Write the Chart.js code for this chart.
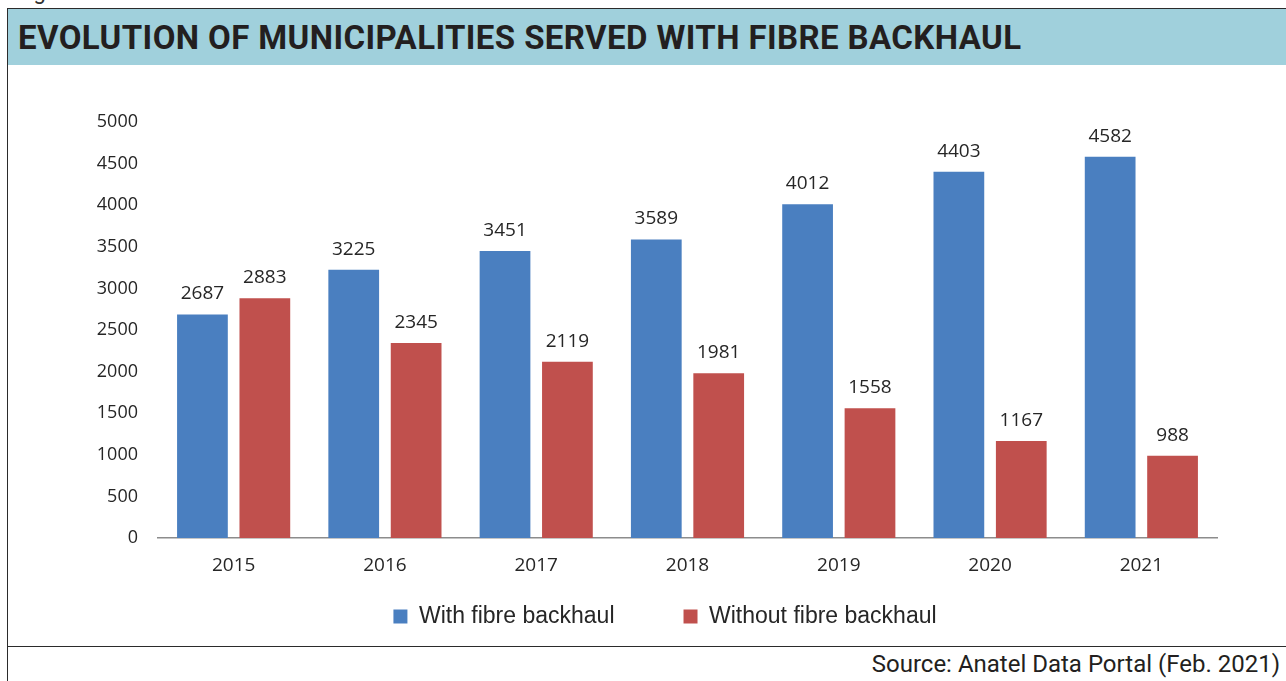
<!DOCTYPE html>
<html>
    <head>
        <meta charset="utf-8">
        <script src="https://cdn.jsdelivr.net/npm/chart.js@4.4.0/dist/chart.umd.min.js"></script>
        <style>
            html, body { margin: 0; padding: 0; background: #fff; overflow: hidden; }
            body { width: 1286px; height: 681px; position: relative; }
            #fig { position: absolute; left: 16px; top: -21px; font: 22px Roboto, sans-serif; color: #333; }
            #box { position: absolute; left: 7px; top: 8px; width: 1300px; height: 700px;
                   border-left: 1.5px solid #2b2b2b; border-top: 1.5px solid #2b2b2b; }
            #title { position: absolute; left: 8px; top: 9px; width: 1290px; height: 56px; background: #a0d0dc; }
            #title span { position: absolute; left: 10px; top: 9px; font: bold 33px Roboto, sans-serif;
                          letter-spacing: 0.4px; color: #231f20; white-space: nowrap; }
            #wrap { position: absolute; left: 8px; top: 66px; width: 1278px; height: 580px; }
            #rule { position: absolute; left: 7px; top: 646px; width: 1290px; height: 0; border-top: 1.5px solid #2b2b2b; }
            #source { position: absolute; right: 6px; top: 650px; font: 24px Roboto, sans-serif; color: #231f20; white-space: nowrap; }
        </style>
    </head>
    <body>
        <div id="fig">Figure</div>
        <div id="box"></div>
        <div id="title"><span>EVOLUTION OF MUNICIPALITIES SERVED WITH FIBRE BACKHAUL</span></div>
        <div id="wrap"><canvas id="myChart"></canvas></div>
        <div id="rule"></div>
        <div id="source">Source: Anatel Data Portal (Feb. 2021)</div>
    </body>
    <script type="text/javascript">
        var years = ['2015', '2016', '2017', '2018', '2019', '2020', '2021'];
        var withFibre = [2687, 3225, 3451, 3589, 4012, 4403, 4582];
        var withoutFibre = [2883, 2345, 2119, 1981, 1558, 1167, 988];
        var seriesNames = ['With fibre backhaul', 'Without fibre backhaul'];

        // writes each bar's value just above it
        var valueLabels = {
            id: 'valueLabels',
            afterDatasetsDraw: function(chart) {
                var ctx = chart.ctx;
                ctx.save();
                ctx.font = '19px "Open Sans", sans-serif';
                ctx.fillStyle = '#262626';
                ctx.textAlign = 'center';
                ctx.textBaseline = 'alphabetic';
                chart.data.datasets.forEach(function(ds, i) {
                    chart.getDatasetMeta(i).data.forEach(function(bar, j) {
                        ctx.fillText(String(ds.data[j]), bar.x, bar.y - 15);
                    });
                });
                ctx.restore();
            }
        };

        // the wide item padding also pads the legend from above, so pull it up under
        // the axis and let its box run on far enough that the items are not clipped
        var legendLift = {
            id: 'legendLift',
            afterLayout: function(chart) {
                var lg = chart.legend;
                lg.top -= 42;
                lg.bottom = lg.top + 120;
            }
        };

        var ctx = document.getElementById('myChart').getContext('2d');
        var chart = new Chart(ctx, {
            type: 'bar',
            data: {
                labels: years,
                datasets: [{
                    label: seriesNames[0],
                    data: withFibre,
                    backgroundColor: '#4a7fc0',
                    borderWidth: 0,
                    categoryPercentage: 0.825,
                    barPercentage: 0.813
                }, {
                    label: seriesNames[1],
                    data: withoutFibre,
                    backgroundColor: '#c0504d',
                    borderWidth: 0,
                    categoryPercentage: 0.825,
                    barPercentage: 0.813
                }]
            },
            options: {
                responsive: true,
                maintainAspectRatio: false,
                animation: false,
                layout: { padding: { top: 56, right: 0, left: 36, bottom: 28 } },
                plugins: {
                    tooltip: { enabled: false },
                    legend: {
                        position: 'bottom',
                        maxHeight: 40,
                        labels: {
                            boxWidth: 14,
                            boxHeight: 14,
                            padding: 69,
                            color: '#262626',
                            font: { family: '"Liberation Sans", Arial, sans-serif', size: 23 }
                        }
                    }
                },
                scales: {
                    x: {
                        grid: { display: true, drawOnChartArea: false, drawTicks: false },
                        border: { display: true, color: '#8c8c8c', width: 1.5 },
                        ticks: {
                            padding: 16,
                            color: '#262626',
                            font: { family: '"Open Sans", sans-serif', size: 19 }
                        },
                        afterFit: function(scale) { scale.height = 40; }
                    },
                    y: {
                        min: 0,
                        max: 5000,
                        grid: { display: false, drawTicks: false },
                        border: { display: false },
                        ticks: {
                            stepSize: 500,
                            padding: 20,
                            color: '#262626',
                            font: { family: '"Open Sans", sans-serif', size: 18 },
                            callback: function(value) { return String(value); }
                        },
                        afterFit: function(scale) { scale.width = 114; }
                    },
                    // empty right-hand margin so the legend centres under the bars
                    edge: {
                        type: 'linear',
                        position: 'right',
                        grid: { display: false },
                        border: { display: false },
                        ticks: { display: false },
                        afterFit: function(scale) { scale.width = 69; }
                    }
                }
            },
            plugins: [valueLabels, legendLift]
        });
    </script>
</html>
